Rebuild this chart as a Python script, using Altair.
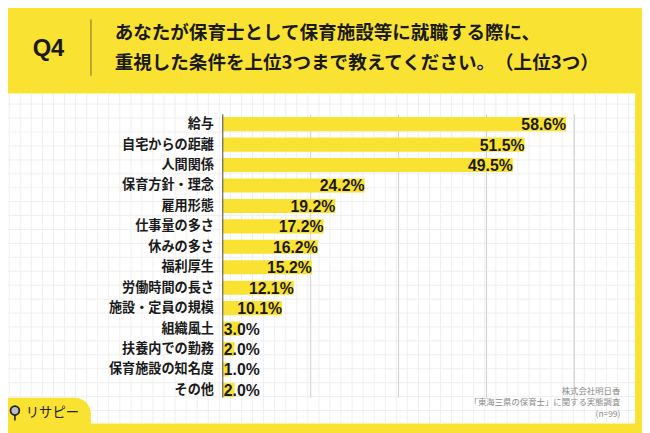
import altair as alt
import pandas as pd

# ---------------- data ----------------
categories = ["給与", "自宅からの距離", "人間関係", "保育方針・理念", "雇用形態",
              "仕事量の多さ", "休みの多さ", "福利厚生", "労働時間の長さ",
              "施設・定員の規模", "組織風土", "扶養内での勤務", "保育施設の知名度", "その他"]
values = [58.6, 51.5, 49.5, 24.2, 19.2, 17.2, 16.2, 15.2, 12.1, 10.1, 3.0, 2.0, 1.0, 2.0]
tick_values = [15, 30, 45, 60]
question_no = "Q4"
# \u200b keeps the browser from trimming the space between 。 and （
title_lines = ["あなたが保育士として保育施設等に就職する際に、",
               "重視した条件を上位3つまで教えてください。\u200b（上位3つ）"]
footer_lines = ["株式会社明日香", "「東海三県の保育士」に関する実態調査", "(n=99)"]
logo_text = "リサピー"

# ---------------- style ----------------
YELLOW = "#FAE233"
JP = "Noto Sans CJK JP"
LAT = "Liberation Sans"
W, H = 642, 425

df = pd.DataFrame({"cat": categories, "val": values})
df["label"] = df["val"].map(lambda v: f"{v:.1f}%")
df["zero"] = 0

xs = alt.Scale(domain=[0, 60], range=[217.5, 573.5])
ys = alt.Scale(domain=categories, range=[104.6, 394.4], paddingInner=0.31, paddingOuter=0.155)

one = pd.DataFrame({"a": [0]})

panel = alt.Chart(one).mark_rect(color="white").encode(
    x=alt.value(-1), x2=alt.value(635), y=alt.value(84), y2=alt.value(418))

# faint graph-paper background
gv = pd.DataFrame({"g": list(range(57))})
grid_v = alt.Chart(gv).mark_rule(color="#efefef", strokeWidth=1).encode(
    x=alt.X("g:Q", scale=alt.Scale(domain=[0, 56], range=[1.2, 628.4]), axis=None),
    y=alt.value(84), y2=alt.value(418))
gh = pd.DataFrame({"h": list(range(23))})
grid_h = alt.Chart(gh).mark_rule(color="#efefef", strokeWidth=1).encode(
    y=alt.Y("h:Q", scale=alt.Scale(domain=[0, 22], range=[94.7, 404.9]), axis=None),
    x=alt.value(-1), x2=alt.value(635))

gridlines = alt.Chart(pd.DataFrame({"t": tick_values})).mark_rule(color="#cfcfcf", strokeWidth=1).encode(
    x=alt.X("t:Q", scale=xs, axis=None), y=alt.value(105), y2=alt.value(392))

bars = alt.Chart(df).mark_bar(color=YELLOW).encode(
    x=alt.X("val:Q", scale=xs, axis=None),
    y=alt.Y("cat:N", scale=ys, axis=None))

axis_line = alt.Chart(pd.DataFrame({"t": [0]})).mark_rule(color="#444444", strokeWidth=1).encode(
    x=alt.X("t:Q", scale=xs, axis=None), y=alt.value(105), y2=alt.value(392))

cat_labels = alt.Chart(df).mark_text(
    align="right", baseline="middle", dx=-9, font=JP, fontSize=13.3, fontWeight="bold", color="#1a1a1a"
).encode(x=alt.X("zero:Q", scale=xs, axis=None), y=alt.Y("cat:N", scale=ys, axis=None), text="cat:N")

big_labels = alt.Chart(df).transform_filter("datum.val >= 8").mark_text(
    align="right", baseline="middle", dy=1, font=LAT, fontSize=16, fontWeight="bold", color="#1a1a1a"
).encode(x=alt.X("val:Q", scale=xs, axis=None), y=alt.Y("cat:N", scale=ys, axis=None), text="label:N")

small_labels = alt.Chart(df).transform_filter("datum.val < 8").mark_text(
    align="left", baseline="middle", dx=1, dy=1, font=LAT, fontSize=16, fontWeight="bold", color="#1a1a1a"
).encode(x=alt.X("zero:Q", scale=xs, axis=None), y=alt.Y("cat:N", scale=ys, axis=None), text="label:N")

# header
q_text = alt.Chart(pd.DataFrame({"q": [question_no]})).mark_text(
    align="center", baseline="middle", font=LAT, fontSize=24, fontWeight="bold", color="#1a1a1a"
).encode(x=alt.value(41), y=alt.value(39), text="q:N")

divider = alt.Chart(one).mark_rule(color="#8c7d2a", strokeWidth=1.2).encode(
    x=alt.value(84), y=alt.value(9), y2=alt.value(66))

title_df = pd.DataFrame({"t": title_lines, "i": [0, 1]})
title = alt.Chart(title_df).mark_text(
    align="left", baseline="middle", font=JP, fontSize=18.8, fontWeight="bold", color="#1a1a1a"
).encode(x=alt.value(108),
         y=alt.Y("i:Q", scale=alt.Scale(domain=[0, 1], range=[23, 53]), axis=None),
         text="t:N")

footer_df = pd.DataFrame({"t": footer_lines, "i": [0, 1, 2]})
footer = alt.Chart(footer_df).mark_text(
    align="right", baseline="middle", font=JP, fontSize=8.5, color="#8a8a8a"
).encode(x=alt.value(620),
         y=alt.Y("i:Q", scale=alt.Scale(domain=[0, 2], range=[385, 408]), axis=None),
         text="t:N")

# logo
logo_blob = alt.Chart(one).mark_rect(color=YELLOW, cornerRadiusTopRight=22).encode(
    x=alt.value(-8), x2=alt.value(84), y=alt.value(392), y2=alt.value(425))
logo_stem = alt.Chart(one).mark_rule(color="#222222", strokeWidth=1.6).encode(
    x=alt.value(7), y=alt.value(408), y2=alt.value(415))
logo_icon = alt.Chart(one).mark_point(
    shape="circle", filled=True, fill="#bdbdbd", stroke="#222222", strokeWidth=1.8, size=80, opacity=1
).encode(x=alt.value(7), y=alt.value(405))
logo = alt.Chart(pd.DataFrame({"t": [logo_text]})).mark_text(
    align="left", baseline="middle", font=JP, fontSize=13.5, fontWeight="normal", color="#222222"
).encode(x=alt.value(18), y=alt.value(407), text="t:N")

chart = alt.layer(
    panel, grid_v, grid_h, gridlines, bars, axis_line, cat_labels, big_labels, small_labels,
    q_text, divider, title, footer, logo_blob, logo_stem, logo_icon, logo
).resolve_scale(x="independent", y="independent").properties(
    width=W, height=H, padding=0, autosize=alt.AutoSizeParams(type="none"), background=YELLOW
).configure_view(stroke=None)

chart.save("out.html", embed_options={"renderer": "svg", "actions": False})
